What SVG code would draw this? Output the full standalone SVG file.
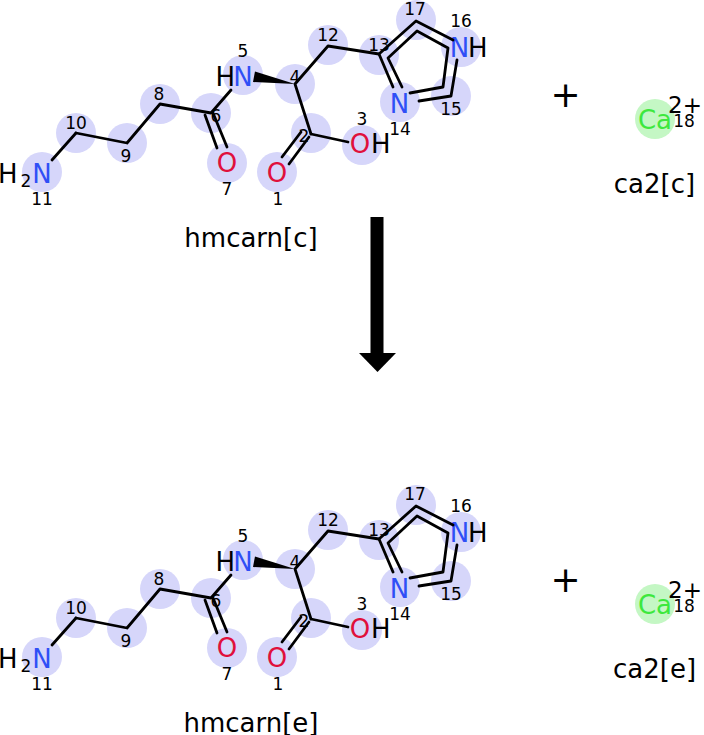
<svg xmlns="http://www.w3.org/2000/svg" width="704" height="735" viewBox="0 0 704 735">
<style>
text{font-family:"DejaVu Sans","Liberation Sans",sans-serif;fill:#000}
.hl{fill:#d6d6fa}
.ca{fill:#c4f7c4}
.el{font-size:26px;text-anchor:middle}
.st{font-size:26px}
.N{fill:#2f4ff6}
.O{fill:#e0103c}
.G{fill:#3de83d}
.num{font-size:17px;text-anchor:middle}
.sub{font-size:17px;text-anchor:middle}
.lbl{font-size:26px;text-anchor:middle}
.plus{font-size:36px;text-anchor:middle}
.b{stroke:#000;stroke-width:2.8;fill:none;stroke-linecap:round;stroke-linejoin:round}
.w{fill:#000}
</style>
<rect width="704" height="735" fill="#fff"/>

<g id="hmcarn-c">
 <g id="c-a1"><circle class="hl" cx="277" cy="172" r="20"/><text class="el O" x="277" y="182">O</text><text class="num" x="278" y="205">1</text></g>
 <g id="c-a2"><circle class="hl" cx="311" cy="133" r="20"/><text class="num" x="304" y="142">2</text></g>
 <g id="c-a3"><circle class="hl" cx="362" cy="145" r="20"/><text class="el O" x="360" y="153">O</text><text class="st" x="371" y="153">H</text><text class="num" x="362" y="125">3</text></g>
 <g id="c-a4"><circle class="hl" cx="295" cy="84" r="20"/><text class="num" x="295" y="83">4</text></g>
 <g id="c-a5"><circle class="hl" cx="243" cy="75" r="20"/><text class="st" x="235" y="86" text-anchor="end">H</text><text class="el N" x="243" y="86">N</text><text class="num" x="243" y="57">5</text></g>
 <g id="c-a6"><circle class="hl" cx="211" cy="113" r="20"/><text class="num" x="216" y="122">6</text></g>
 <g id="c-a7"><circle class="hl" cx="227" cy="163" r="20"/><text class="el O" x="227" y="172">O</text><text class="num" x="227" y="195">7</text></g>
 <g id="c-a8"><circle class="hl" cx="160" cy="104" r="20"/><text class="num" x="159" y="100">8</text></g>
 <g id="c-a9"><circle class="hl" cx="127" cy="143" r="20"/><text class="num" x="126" y="162">9</text></g>
 <g id="c-a10"><circle class="hl" cx="76" cy="133" r="20"/><text class="num" x="76" y="129">10</text></g>
 <g id="c-a11"><circle class="hl" cx="42" cy="172" r="20"/><text class="st" x="17.5" y="183" text-anchor="end">H</text><text class="sub" x="26" y="187">2</text><text class="el N" x="42" y="183">N</text><text class="num" x="42" y="205">11</text></g>
 <g id="c-a12"><circle class="hl" cx="328" cy="45" r="20"/><text class="num" x="328" y="41">12</text></g>
 <g id="c-a13"><circle class="hl" cx="379" cy="55" r="20"/><text class="num" x="379" y="51">13</text></g>
 <g id="c-a14"><circle class="hl" cx="400" cy="102" r="20"/><text class="el N" x="399.5" y="113">N</text><text class="num" x="400" y="135">14</text></g>
 <g id="c-a15"><circle class="hl" cx="451" cy="96" r="20"/><text class="num" x="451" y="115">15</text></g>
 <g id="c-a16"><circle class="hl" cx="461" cy="47" r="20"/><text class="el N" x="459.5" y="57">N</text><text class="st" x="468" y="57">H</text><text class="num" x="461" y="27">16</text></g>
 <g id="c-a17"><circle class="hl" cx="416" cy="20" r="20"/><text class="num" x="415" y="15">17</text></g>
 <g id="c-bonds">
  <line class="b" x1="52" y1="160" x2="76" y2="133"/>
  <polyline class="b" points="76,133 127,143 160,104 211,113 231,90"/>
  <line class="b" x1="205" y1="115" x2="217" y2="148"/>
  <line class="b" x1="213" y1="113" x2="227" y2="147"/>
  <polygon class="w" points="295,84 255,71.5 253,82"/>
  <polyline class="b" points="311,134 295,84 328,46 379,54"/>
  <line class="b" x1="311" y1="134" x2="348" y2="142"/>
  <line class="b" x1="301" y1="132" x2="282" y2="157"/>
  <line class="b" x1="309" y1="137" x2="289" y2="164"/>
  <polyline class="b" points="393,87 379,54 416,21 453,40"/>
  <polyline class="b" points="457,60 451,96 419,101"/>
  <polyline class="b" points="402,87 388,58 417,31 448,48 443,87 410,93"/>
 </g>
 <text class="lbl" x="251" y="247">hmcarn[c]</text>
</g>

<text class="plus" x="565.5" y="107">+</text>

<g id="ca2-c">
 <g id="c-a18"><circle class="ca" cx="655" cy="119" r="20"/><text class="G" x="655" y="129" font-size="26" text-anchor="middle">Ca</text><text x="668" y="113" font-size="23">2+</text><text class="num" x="684" y="127">18</text></g>
 <text class="lbl" x="654.5" y="193">ca2[c]</text>
</g>

<g id="connectors">
 <line x1="377" y1="217" x2="377" y2="354" stroke="#000" stroke-width="13"/>
 <polygon points="359,353 396,353 377.5,372" fill="#000"/>
</g>

<g id="hmcarn-e" transform="translate(0,485)">
 <g id="e-a1"><circle class="hl" cx="277" cy="172" r="20"/><text class="el O" x="277" y="182">O</text><text class="num" x="278" y="205">1</text></g>
 <g id="e-a2"><circle class="hl" cx="311" cy="133" r="20"/><text class="num" x="304" y="142">2</text></g>
 <g id="e-a3"><circle class="hl" cx="362" cy="145" r="20"/><text class="el O" x="360" y="153">O</text><text class="st" x="371" y="153">H</text><text class="num" x="362" y="125">3</text></g>
 <g id="e-a4"><circle class="hl" cx="295" cy="84" r="20"/><text class="num" x="295" y="83">4</text></g>
 <g id="e-a5"><circle class="hl" cx="243" cy="75" r="20"/><text class="st" x="235" y="86" text-anchor="end">H</text><text class="el N" x="243" y="86">N</text><text class="num" x="243" y="57">5</text></g>
 <g id="e-a6"><circle class="hl" cx="211" cy="113" r="20"/><text class="num" x="216" y="122">6</text></g>
 <g id="e-a7"><circle class="hl" cx="227" cy="163" r="20"/><text class="el O" x="227" y="172">O</text><text class="num" x="227" y="195">7</text></g>
 <g id="e-a8"><circle class="hl" cx="160" cy="104" r="20"/><text class="num" x="159" y="100">8</text></g>
 <g id="e-a9"><circle class="hl" cx="127" cy="143" r="20"/><text class="num" x="126" y="162">9</text></g>
 <g id="e-a10"><circle class="hl" cx="76" cy="133" r="20"/><text class="num" x="76" y="129">10</text></g>
 <g id="e-a11"><circle class="hl" cx="42" cy="172" r="20"/><text class="st" x="17.5" y="183" text-anchor="end">H</text><text class="sub" x="26" y="187">2</text><text class="el N" x="42" y="183">N</text><text class="num" x="42" y="205">11</text></g>
 <g id="e-a12"><circle class="hl" cx="328" cy="45" r="20"/><text class="num" x="328" y="41">12</text></g>
 <g id="e-a13"><circle class="hl" cx="379" cy="55" r="20"/><text class="num" x="379" y="51">13</text></g>
 <g id="e-a14"><circle class="hl" cx="400" cy="102" r="20"/><text class="el N" x="399.5" y="113">N</text><text class="num" x="400" y="135">14</text></g>
 <g id="e-a15"><circle class="hl" cx="451" cy="96" r="20"/><text class="num" x="451" y="115">15</text></g>
 <g id="e-a16"><circle class="hl" cx="461" cy="47" r="20"/><text class="el N" x="459.5" y="57">N</text><text class="st" x="468" y="57">H</text><text class="num" x="461" y="27">16</text></g>
 <g id="e-a17"><circle class="hl" cx="416" cy="20" r="20"/><text class="num" x="415" y="15">17</text></g>
 <g id="e-bonds">
  <line class="b" x1="52" y1="160" x2="76" y2="133"/>
  <polyline class="b" points="76,133 127,143 160,104 211,113 231,90"/>
  <line class="b" x1="205" y1="115" x2="217" y2="148"/>
  <line class="b" x1="213" y1="113" x2="227" y2="147"/>
  <polygon class="w" points="295,84 255,71.5 253,82"/>
  <polyline class="b" points="311,134 295,84 328,46 379,54"/>
  <line class="b" x1="311" y1="134" x2="348" y2="142"/>
  <line class="b" x1="301" y1="132" x2="282" y2="157"/>
  <line class="b" x1="309" y1="137" x2="289" y2="164"/>
  <polyline class="b" points="393,87 379,54 416,21 453,40"/>
  <polyline class="b" points="457,60 451,96 419,101"/>
  <polyline class="b" points="402,87 388,58 417,31 448,48 443,87 410,93"/>
 </g>
 <text class="lbl" x="251" y="247">hmcarn[e]</text>
</g>

<text class="plus" x="565.5" y="592">+</text>

<g id="ca2-e" transform="translate(0,485)">
 <g id="e-a18"><circle class="ca" cx="655" cy="119" r="20"/><text class="G" x="655" y="129" font-size="26" text-anchor="middle">Ca</text><text x="668" y="113" font-size="23">2+</text><text class="num" x="684" y="127">18</text></g>
 <text class="lbl" x="654.5" y="193">ca2[e]</text>
</g>
</svg>
